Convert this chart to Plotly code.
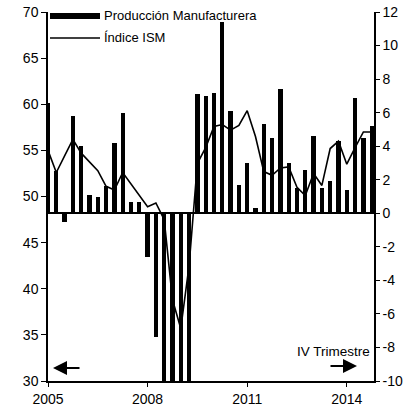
import plotly.graph_objects as go

# Quarterly data 2005Q1 - 2014Q4
years = list(range(2005, 2015))
quarters = [y + q * 0.25 for y in years for q in range(4)]

produccion = [6.6, 2.5, -0.5, 5.8, 4.0, 1.1, 1.0, 1.6, 4.2, 6.0,
              0.7, 0.7, -2.6, -7.4, -11.0, -14.0, -16.0, -11.5, 7.1, 7.0,
              7.2, 11.4, 6.1, 1.7, 3.0, 0.3, 5.3, 4.5, 7.4, 3.0,
              1.5, 2.6, 4.6, 1.5, 1.9, 4.3, 1.4, 6.9, 4.5, 5.2]

ism = [55.0, 52.6, 54.4, 56.2, 54.7, 53.8, 52.8, 51.1, 50.7, 52.6,
       51.4, 50.2, 48.9, 49.3, 47.5, 38.8, 35.7, 42.5, 53.6, 55.3,
       57.6, 57.8, 57.2, 57.7, 59.3, 56.5, 52.7, 52.3, 53.1, 53.2,
       51.0, 50.1, 52.5, 51.2, 55.2, 56.0, 53.5, 55.3, 57.0, 57.0]

x_ticks = [2005, 2008, 2011, 2014]
x_ticklabels = ["2005", "2008", "2011", "2014"]
left_ticks = [30, 35, 40, 45, 50, 55, 60, 65, 70]
right_ticks = [-10, -8, -6, -4, -2, 0, 2, 4, 6, 8, 10, 12]

FONT = "Liberation Sans, Arial, sans-serif"

W, H = 418, 408
L, T = 48, 12
PW, PH = 326, 369

fig = go.Figure()
fig.add_trace(go.Bar(x=quarters, y=produccion, width=0.13,
                     marker=dict(color="black", line=dict(width=0)),
                     yaxis="y", name="Producción Manufacturera",
                     showlegend=False))
fig.add_trace(go.Scatter(x=quarters, y=ism, mode="lines",
                         line=dict(color="black", width=1.6),
                         yaxis="y2", name="Índice ISM", showlegend=False))

fig.update_layout(
    width=W, height=H,
    margin=dict(l=L, r=W - L - PW, t=T, b=H - T - PH, autoexpand=False),
    paper_bgcolor="white", plot_bgcolor="white",
    font=dict(family=FONT, size=14, color="black"),
    bargap=0, showlegend=False,
    xaxis=dict(range=[2005, 2014.82], tickvals=x_ticks, ticktext=x_ticklabels,
               showgrid=False, zeroline=False, showline=True, automargin=False,
               linecolor="black", linewidth=1.5, ticks="outside",
               ticklen=4, tickcolor="black", tickfont=dict(size=14)),
    yaxis=dict(range=[-10, 12], side="right", tickvals=right_ticks,
               ticktext=[str(v) for v in right_ticks], automargin=False,
               showgrid=False, zeroline=True, zerolinecolor="black",
               zerolinewidth=2, showline=True, linecolor="black",
               linewidth=1.5, ticks="outside", ticklen=4,
               tickcolor="black", tickfont=dict(size=14)),
    yaxis2=dict(range=[30, 70], side="left", overlaying="y", automargin=False,
                tickvals=left_ticks, showgrid=False, zeroline=False,
                showline=True, linecolor="black", linewidth=1.5,
                ticks="outside", ticklen=5, tickcolor="black",
                tickfont=dict(size=14)),
)

# Manual legend (top-left)
fig.add_shape(type="rect", xref="paper", yref="paper",
              x0=2 / PW, x1=52 / PW, y0=1 - 7 / PH, y1=1 - 1 / PH,
              fillcolor="black", line=dict(width=0))
fig.add_shape(type="line", xref="paper", yref="paper",
              x0=2 / PW, x1=52 / PW, y0=1 - 26 / PH, y1=1 - 26 / PH,
              line=dict(color="black", width=1.6))
fig.add_annotation(xref="paper", yref="paper", x=54 / PW, y=1 - 4 / PH,
                   text="Producción Manufacturera", showarrow=False,
                   xanchor="left", yanchor="middle", font=dict(size=13))
fig.add_annotation(xref="paper", yref="paper", x=54 / PW, y=1 - 26 / PH,
                   text="Índice ISM", showarrow=False,
                   xanchor="left", yanchor="middle", font=dict(size=13))

# Bottom annotations
fig.add_annotation(xref="paper", yref="paper", x=1 - 2 / PW, y=1 - 339 / PH,
                   text="IV Trimestre", showarrow=False,
                   xanchor="right", yanchor="middle", font=dict(size=13.5))
fig.add_annotation(xref="paper", yref="paper", x=5 / PW, y=1 - 356 / PH,
                   ax=28, ay=0, text="", showarrow=True, arrowhead=2,
                   arrowsize=1.4, arrowwidth=2, arrowcolor="black")
fig.add_annotation(xref="paper", yref="paper", x=309 / PW, y=1 - 354 / PH,
                   ax=-28, ay=0, text="", showarrow=True, arrowhead=2,
                   arrowsize=1.4, arrowwidth=2, arrowcolor="black")

fig.write_html("out.html", config={"displayModeBar": False},
               post_script="document.body.style.margin='0px';")
